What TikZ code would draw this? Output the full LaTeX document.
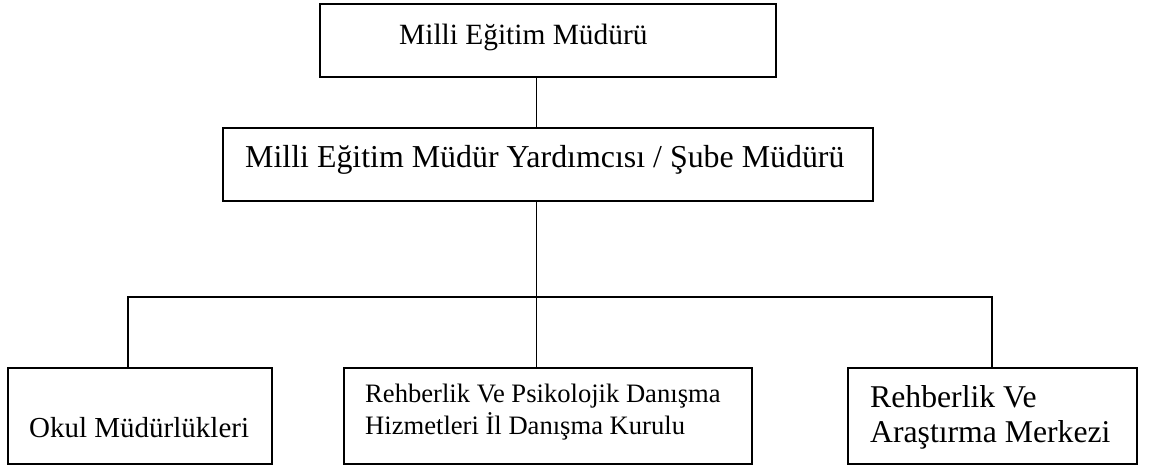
\documentclass[tikz,border=0pt]{standalone}
\usepackage{fontspec}
\setmainfont{Liberation Serif}
\begin{document}
\begin{tikzpicture}[x=1pt,y=1pt,
  orgbox/.style={draw=black, line width=1.8pt, rectangle, inner sep=0pt},
  conn/.style={draw=black, line width=1.8pt},
  lbl/.style={anchor=base west, inner sep=0pt, text=black}]
\useasboundingbox (0,0) rectangle (1151,468);
% boxes
\node[orgbox, minimum width=456, minimum height=73] (top) at (548,427.5) {};
\node[orgbox, minimum width=650, minimum height=73] (sub) at (548,303.5) {};
\node[orgbox, minimum width=264, minimum height=96] (left) at (140,52) {};
\node[orgbox, minimum width=408, minimum height=96] (mid) at (548,52) {};
\node[orgbox, minimum width=289, minimum height=96] (right) at (992.5,52) {};
% texts
\node[lbl, font=\fontsize{29.4}{35}\selectfont] (ttop) at (399,423) {Milli Eğitim Müdürü};
\node[lbl, font=\fontsize{31.9}{38}\selectfont] (tsub) at (245,300) {Milli Eğitim Müdür Yardımcısı / Şube Müdürü};
\node[lbl, font=\fontsize{29}{35}\selectfont] (tleft) at (29,30) {Okul Müdürlükleri};
\node[lbl, font=\fontsize{26.6}{32}\selectfont] (tmidA) at (365,65) {Rehberlik Ve Psikolojik Danışma};
\node[lbl, font=\fontsize{26.6}{32}\selectfont] (tmidB) at (365,33) {Hizmetleri İl Danışma Kurulu};
\node[lbl, font=\fontsize{31.7}{38}\selectfont] (trightA) at (870,60) {Rehberlik Ve};
\node[lbl, font=\fontsize{31.7}{38}\selectfont] (trightB) at (870,25) {Araştırma Merkezi};
% connectors
\coordinate (jM) at (536.5,171);
\coordinate (jL) at (128,171);
\coordinate (jR) at (992,171);
\draw[conn] (jM |- top.south) -- (jM |- sub.north);
\draw[conn] (jM |- sub.south) -- (jM);
\draw[conn] (jL |- left.north) -- (jL) -- (jR) -- (jR |- right.north);
\draw[conn] (jM) -- (jM |- mid.north);
\end{tikzpicture}
\end{document}
